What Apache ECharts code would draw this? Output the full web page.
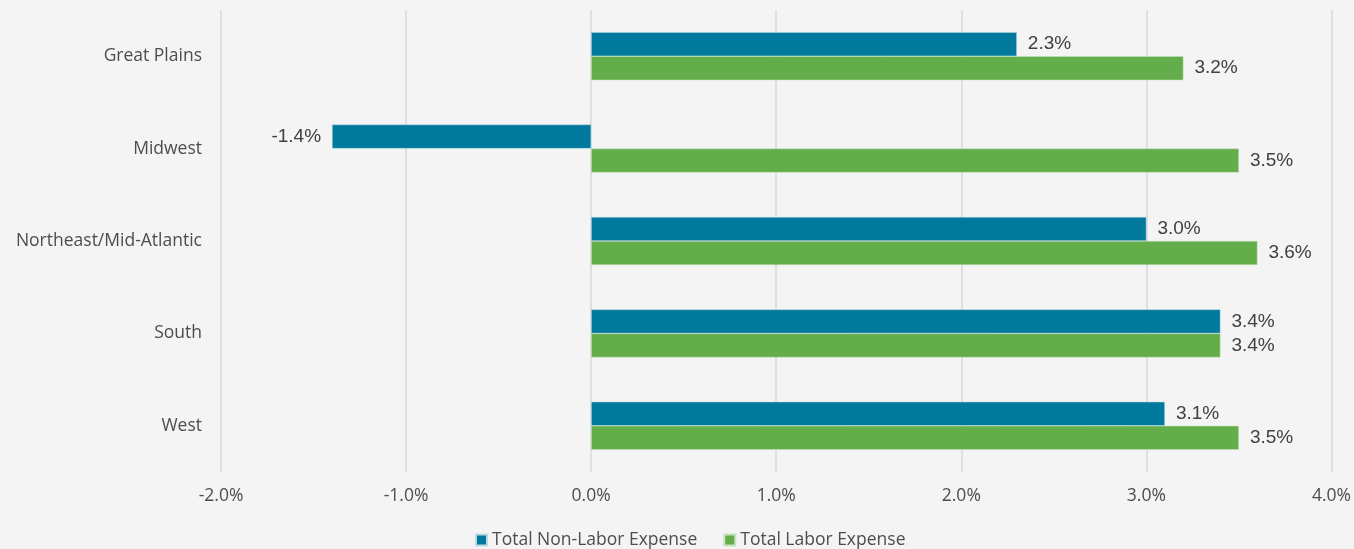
<!DOCTYPE html>
<html>
<head>
<meta charset="utf-8">
<script src="https://cdn.jsdelivr.net/npm/echarts@6/dist/echarts.min.js"></script>
<style>
  html, body { margin: 0; padding: 0; background: #f4f4f4; }
  #chart { width: 1354px; height: 549px; }
</style>
</head>
<body>
<div id="chart"></div>
<script>
// regions, top to bottom
const regions = ['Great Plains', 'Midwest', 'Northeast/Mid-Atlantic', 'South', 'West']
// percent change
const nonLabor = [2.3, -1.4, 3.0, 3.4, 3.1]
const labor = [3.2, 3.5, 3.6, 3.4, 3.5]

const axisFont = '"Open Sans", "Noto Sans", sans-serif'
const labelFont = '"Liberation Sans", Arial, sans-serif'

const chart = echarts.init(document.getElementById('chart'))

const barLabel = {
  show: true,
  position: 'right',
  distance: 11,
  fontFamily: labelFont,
  fontSize: 19,
  color: '#404040',
  formatter: p => p.value.toFixed(1) + '%'
}

chart.setOption({
  backgroundColor: '#f4f4f4',
  animation: false,
  grid: { left: 221, right: 21, top: 10, bottom: 77 },
  legend: {
    left: 475,
    top: 531,
    padding: 0,
    itemWidth: 11,
    itemHeight: 11,
    itemGap: 26,
    icon: 'rect',
    textStyle: { fontFamily: axisFont, fontSize: 17.5, color: '#4d4d4d' },
    data: ['Total Non-Labor Expense', 'Total Labor Expense']
  },
  xAxis: {
    type: 'value',
    min: -2,
    max: 4,
    interval: 1,
    axisLine: { show: false },
    axisTick: { show: false },
    splitLine: { lineStyle: { color: '#d9d9d9', width: 1.5 } },
    axisLabel: {
      margin: 15,
      fontFamily: axisFont,
      fontSize: 17.5,
      color: '#4d4d4d',
      formatter: v => v.toFixed(1) + '%'
    }
  },
  yAxis: {
    type: 'category',
    inverse: true,
    data: regions,
    axisLine: { show: false },
    axisTick: { show: false },
    axisLabel: {
      margin: 19,
      fontFamily: axisFont,
      fontSize: 17.5,
      color: '#4d4d4d'
    }
  },
  series: [
    {
      name: 'Total Non-Labor Expense',
      type: 'bar',
      data: nonLabor.map(v => v < 0
        ? { value: v, label: { position: 'left' } }
        : v),
      barGap: '0%',
      barCategoryGap: '48%',
      itemStyle: { color: '#00799c', borderColor: '#b9dbe6', borderWidth: 0.5 },
      label: barLabel
    },
    {
      name: 'Total Labor Expense',
      type: 'bar',
      data: labor,
      barGap: '0%',
      barCategoryGap: '48%',
      itemStyle: { color: '#63ad4b', borderColor: '#c9e3bf', borderWidth: 0.5 },
      label: barLabel
    }
  ]
})

window.addEventListener('resize', function () {
  chart.resize()
})
</script>
</body>
</html>
